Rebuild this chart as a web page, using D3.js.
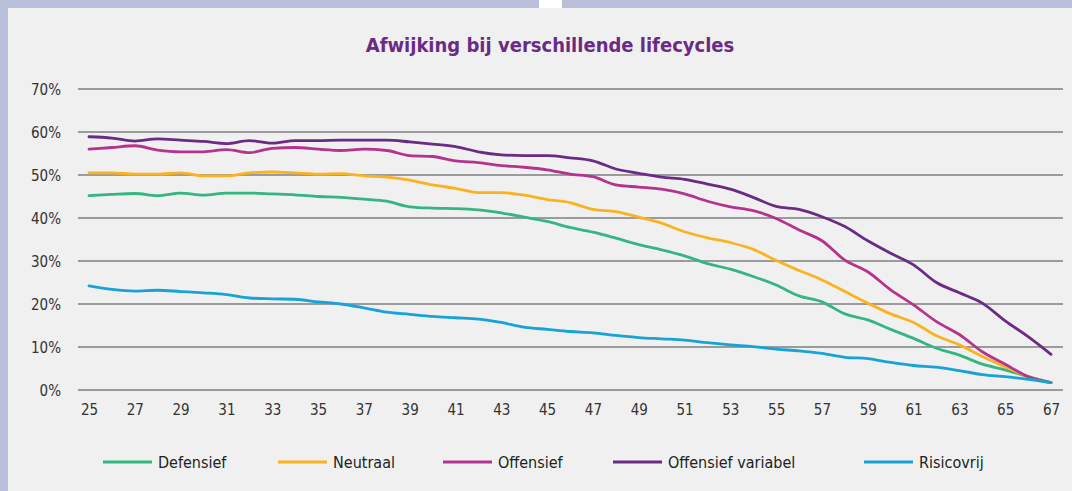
<!DOCTYPE html>
<html><head><meta charset="utf-8">
<script src="https://cdn.jsdelivr.net/npm/d3@7"></script>
<style>
html,body{margin:0;padding:0;background:#b9bfd9;}
svg{display:block;}
text{font-family:"DejaVu Sans Condensed","DejaVu Sans",sans-serif;font-stretch:condensed;}
</style></head>
<body><svg id="c" width="1072" height="491"></svg>
<script>
const title = "Afwijking bij verschillende lifecycles";
const ages = d3.range(25, 68);
const xTicks = d3.range(25, 68, 2);
const yTicks = [0, 0.1, 0.2, 0.3, 0.4, 0.5, 0.6, 0.7];
const seriesNames = ["Defensief", "Neutraal", "Offensief", "Offensief variabel", "Risicovrij"];
const colors = ["#34b582", "#f9b320", "#b5338f", "#6b2a84", "#17a3d6"];

const defensief = [45.2,45.5,45.7,45.2,45.8,45.3,45.8,45.8,45.6,45.4,45.0,44.8,44.4,43.9,42.6,42.3,42.2,41.9,41.2,40.2,39.2,37.8,36.7,35.3,33.8,32.6,31.2,29.4,28.1,26.4,24.4,21.9,20.5,17.7,16.3,14.1,12.0,9.7,8.1,6.0,4.7,3.1,1.7];
const neutraal = [50.5,50.5,50.2,50.2,50.5,49.8,49.8,50.5,50.7,50.5,50.2,50.3,49.8,49.5,48.8,47.7,46.9,45.9,45.9,45.3,44.3,43.6,42.0,41.5,40.2,38.8,36.8,35.4,34.3,32.7,30.1,27.8,25.6,22.9,20.2,17.7,15.7,12.6,10.5,7.8,5.4,3.1,1.7];
const offensief = [56.0,56.4,56.8,55.8,55.4,55.4,55.9,55.2,56.2,56.4,56.0,55.7,56.0,55.7,54.5,54.3,53.3,52.9,52.2,51.8,51.2,50.2,49.6,47.7,47.2,46.7,45.6,43.9,42.6,41.7,39.9,37.2,34.7,30.2,27.5,23.3,19.8,15.9,12.9,8.9,6.0,3.1,1.7];
const offensiefVariabel = [58.9,58.6,57.9,58.4,58.1,57.8,57.3,58.0,57.4,58.0,58.0,58.1,58.1,58.1,57.7,57.2,56.6,55.4,54.7,54.5,54.5,54.0,53.3,51.4,50.4,49.5,49.0,47.9,46.7,44.8,42.7,42.0,40.3,38.0,34.7,31.8,29.1,25.0,22.6,20.2,16.1,12.4,8.3];
const risicovrij = [24.2,23.4,23.0,23.2,22.9,22.6,22.2,21.4,21.2,21.1,20.5,20.0,19.1,18.1,17.6,17.1,16.8,16.5,15.7,14.6,14.1,13.6,13.3,12.7,12.2,11.9,11.6,11.0,10.5,10.1,9.5,9.1,8.5,7.6,7.3,6.4,5.7,5.3,4.5,3.6,3.1,2.5,1.7];
const seriesValues = [defensief, neutraal, offensief, offensiefVariabel, risicovrij];

const svg = d3.select("#c");
// background panel
svg.append("rect").attr("x",0).attr("y",0).attr("width",1072).attr("height",491).attr("fill","#b9bfd9");
svg.append("rect").attr("x",539).attr("y",0).attr("width",23).attr("height",8).attr("fill","#ffffff");
svg.append("rect").attr("x",8).attr("y",8).attr("width",1064).attr("height",483).attr("fill","#f0f0f0");

svg.append("text").attr("x",550).attr("y",52).attr("text-anchor","middle")
  .attr("font-size",20).attr("font-weight","bold").attr("fill","#6b2a84").text(title);

const x = d3.scaleLinear().domain([25,67]).range([89,1051]);
const y = d3.scaleLinear().domain([0,0.7]).range([390,89]);

// gridlines
svg.append("g").selectAll("line").data(yTicks).join("line")
  .attr("x1",78).attr("x2",1063).attr("y1",d=>y(d)).attr("y2",d=>y(d))
  .attr("stroke","#9b9b9d").attr("stroke-width",2);

// y axis labels
const yAxis = d3.axisLeft(y).tickValues(yTicks).tickFormat(d3.format(".0%")).tickSize(0).tickPadding(0);
const gy = svg.append("g").attr("transform","translate(61,0)").call(yAxis);
gy.select(".domain").remove();
gy.selectAll("text").attr("font-size",15).attr("fill","#333").attr("font-family",null).attr("dy","0.35em");

// x axis labels
const xAxis = d3.axisBottom(x).tickValues(xTicks).tickFormat(d3.format("d")).tickSize(0).tickPadding(0);
const gx = svg.append("g").attr("transform","translate(0,404)").call(xAxis);
gx.select(".domain").remove();
gx.selectAll("text").attr("font-size",15).attr("fill","#333").attr("font-family",null).attr("dy","0.71em");

// lines
const line = d3.line().x((d,i)=>x(ages[i])).y(d=>y(d/100)).curve(d3.curveMonotoneX);
svg.append("g").selectAll("path").data(seriesValues).join("path")
  .attr("d",line).attr("fill","none").attr("stroke",(d,i)=>colors[i])
  .attr("stroke-width",2.8).attr("stroke-linejoin","round").attr("stroke-linecap","round");

// legend
const legendX = [103, 278, 443, 613, 864];
const lg = svg.append("g").selectAll("g").data(seriesNames).join("g")
  .attr("transform",(d,i)=>`translate(${legendX[i]},462)`);
lg.append("line").attr("x1",0).attr("x2",49).attr("y1",0).attr("y2",0)
  .attr("stroke",(d,i)=>colors[i]).attr("stroke-width",3.2);
lg.append("text").attr("x",55).attr("y",0).attr("dy","0.35em")
  .attr("font-size",16).attr("fill","#222").text(d=>d);
</script></body></html>
